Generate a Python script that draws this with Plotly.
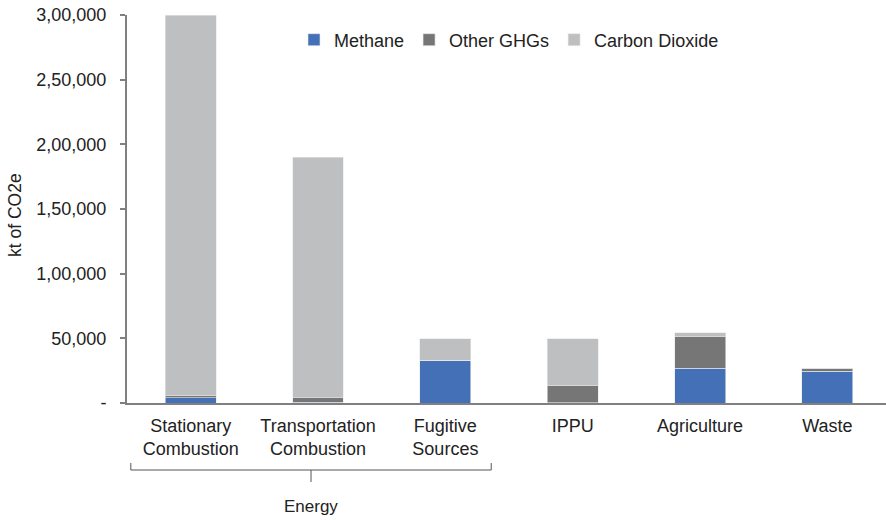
import plotly.graph_objects as go

categories = ["Stationary<br>Combustion", "Transportation<br>Combustion", "Fugitive<br>Sources",
              "IPPU", "Agriculture", "Waste"]
methane = [3900, 500, 33000, 300, 27000, 24700]
other_ghgs = [1800, 4000, 200, 13100, 24300, 1900]
carbon_dioxide = [294300, 185500, 16300, 36300, 3100, 100]
tick_vals = [0, 50000, 100000, 150000, 200000, 250000, 300000]
tick_text = ["-", "50,000", "1,00,000", "1,50,000", "2,00,000", "2,50,000", "3,00,000"]

FONT = "Liberation Sans, Arial, sans-serif"
TXT = "#222222"
xidx = list(range(len(categories)))

fig = go.Figure()
for name, vals, col in [("Methane", methane, "#4470B8"),
                        ("Other GHGs", other_ghgs, "#767676"),
                        ("Carbon Dioxide", carbon_dioxide, "#BEBFC1")]:
    fig.add_trace(go.Bar(x=xidx, y=vals, name=name, width=0.4,
                         marker=dict(color=col, line=dict(width=0.6, color="#E8E8E8"))))

L, R = 127, 886
plot_top, plot_bottom = 15, 403
h = plot_bottom - plot_top
w = R - L

def py(pix):
    return (plot_bottom - pix) / h

def px(pix):
    return (pix - L) / w

fig.update_layout(
    barmode="stack",
    width=886, height=520,
    margin=dict(l=L, r=886 - R, t=plot_top, b=520 - plot_bottom, pad=0, autoexpand=False),
    paper_bgcolor="white", plot_bgcolor="white",
    font=dict(family=FONT, size=18, color=TXT),
    showlegend=True,
    legend=dict(orientation="h", x=px(294), y=py(40), xanchor="left", yanchor="middle",
                font=dict(size=18, color=TXT), traceorder="normal",
                itemwidth=30, bgcolor="rgba(0,0,0,0)"),
    xaxis=dict(range=[-0.5, 5.46], tickmode="array", tickvals=xidx, ticktext=categories,
               showline=True, linecolor="#808080", linewidth=2, ticks="",
               showgrid=False, zeroline=False, tickfont=dict(size=18, color=TXT),
               ticklabelstandoff=5, automargin=False),
    yaxis=dict(range=[0, 300000], tickmode="array", tickvals=tick_vals, ticktext=tick_text,
               showline=True, linecolor="#808080", linewidth=2, ticks="outside",
               ticklen=5, tickcolor="#808080", tickwidth=1.5,
               showgrid=False, zeroline=False, tickfont=dict(size=18, color=TXT),
               ticklabelstandoff=10, automargin=False),
)

# y-axis title
fig.add_annotation(x=px(15), xref="paper", y=py(215), yref="paper", text="kt of CO2e",
                   textangle=-90, showarrow=False, font=dict(size=17.5, color=TXT),
                   xanchor="center", yanchor="middle")

# Energy bracket
x0, x1 = -0.47, 2.36
xm = (x0 + x1) / 2
bracket_y = py(470)
line = dict(color="#555555", width=1)
fig.add_shape(type="line", xref="x", yref="paper", x0=x0, x1=x1, y0=bracket_y, y1=bracket_y, line=line)
fig.add_shape(type="line", xref="x", yref="paper", x0=x0, x1=x0, y0=bracket_y, y1=py(463), line=line)
fig.add_shape(type="line", xref="x", yref="paper", x0=x1, x1=x1, y0=bracket_y, y1=py(463), line=line)
fig.add_shape(type="line", xref="x", yref="paper", x0=xm, x1=xm, y0=bracket_y, y1=py(482), line=line)
fig.add_annotation(x=xm, xref="x", y=py(506), yref="paper", text="Energy", showarrow=False,
                   font=dict(size=17, color=TXT), xanchor="center", yanchor="middle")

fig.write_html("out.html", config={"displayModeBar": False},
               post_script="document.body.style.margin='0';document.body.style.overflow='hidden';")
